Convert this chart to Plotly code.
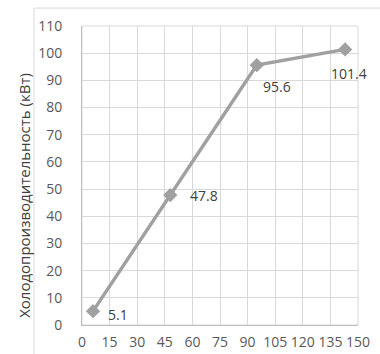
import plotly.graph_objects as go

x_vals = [6, 48, 95, 143]
y_vals = [5.1, 47.8, 95.6, 101.4]
labels = ["5.1", "47.8", "95.6", "101.4"]
x_ticks = [0, 15, 30, 45, 60, 75, 90, 105, 120, 135, 150]
y_ticks = [0, 10, 20, 30, 40, 50, 60, 70, 80, 90, 100, 110]
y_title = "Холодопроизводительность (кВт)"

label_offsets = [(25, -3), (34, 0), (20, -21), (4, -24)]

font = "Open Sans, sans-serif"

fig = go.Figure()
fig.add_trace(go.Scatter(
    x=x_vals, y=y_vals, mode="lines+markers",
    line=dict(color="#a0a0a0", width=3.5),
    marker=dict(symbol="diamond", size=11, color="#a0a0a0"),
    hoverinfo="skip", showlegend=False,
))
for xv, yv, lab, (dx, dy) in zip(x_vals, y_vals, labels, label_offsets):
    fig.add_annotation(x=xv, y=yv, text=lab, showarrow=False,
                       xshift=dx, yshift=dy,
                       font=dict(family=font, size=14, color="#404040"))

fig.add_annotation(xref="paper", yref="paper", x=-0.254, y=0.435, text=y_title,
                   textangle=-90, showarrow=False,
                   font=dict(family=font, size=15, color="#404040"))

fig.add_shape(type="line", xref="paper", yref="paper", x0=-0.174, x1=-0.174, y0=-0.2, y1=1.06,
              line=dict(color="#d9d9d9", width=1))
fig.add_shape(type="line", xref="paper", yref="paper", x0=-0.174, x1=1.2, y0=1.06, y1=1.06,
              line=dict(color="#d9d9d9", width=1))

fig.update_layout(
    width=380, height=354,
    margin=dict(l=82, r=22, t=26, b=29),
    paper_bgcolor="white", plot_bgcolor="white",
    font=dict(family=font, size=14, color="#595959"),
    xaxis=dict(range=[0, 150], tickvals=x_ticks, ticktext=[str(t) for t in x_ticks],
               showgrid=True, gridcolor="#d9d9d9", gridwidth=1,
               showline=True, linecolor="#bfbfbf", linewidth=1, mirror=False,
               zeroline=False, ticks="", automargin=False, ticklabelstandoff=4,
               tickfont=dict(size=14, color="#595959")),
    yaxis=dict(range=[0, 110], tickvals=y_ticks,
               showgrid=True, gridcolor="#d9d9d9", gridwidth=1,
               showline=True, linecolor="#bfbfbf", linewidth=1,
               zeroline=False, ticks="", automargin=False, ticklabelstandoff=16,
               tickfont=dict(size=14, color="#595959")),
)
fig.add_shape(type="rect", xref="paper", yref="paper", x0=0, x1=1, y0=0, y1=1,
              line=dict(color="#d9d9d9", width=1), layer="below")

fig.write_html("out.html", config={"displayModeBar": False},
               post_script="document.body.style.margin='0';")
